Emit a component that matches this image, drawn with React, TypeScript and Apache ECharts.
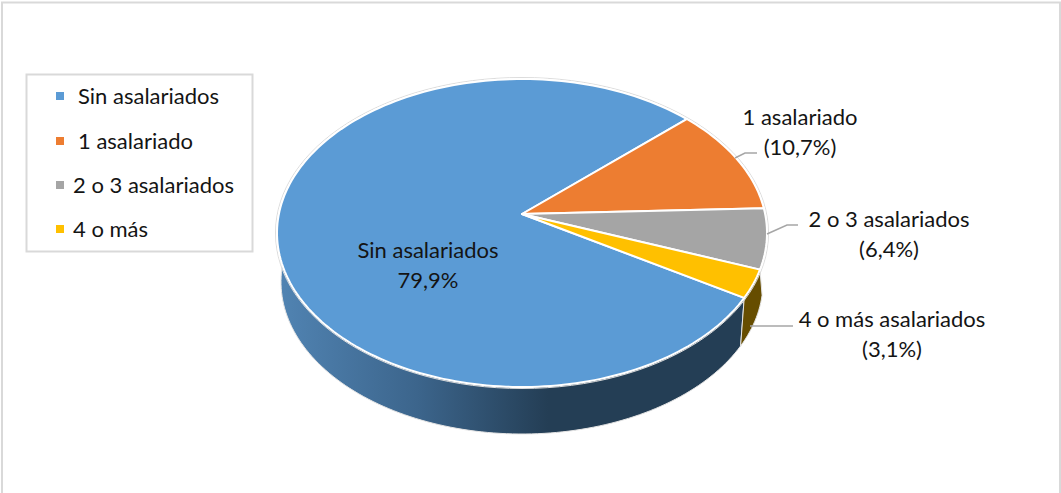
import React, { useEffect, useRef } from "react";
import * as echarts from "echarts";

const sliceNames = ["Sin asalariados", "1 asalariado", "2 o 3 asalariados", "4 o más asalariados"];
const legendNames = ["Sin asalariados", "1 asalariado", "2 o 3 asalariados", "4 o más"];
const sliceValues = [79.9, 10.7, 6.4, 3.1];
const sliceColors = ["#5b9bd5", "#ed7d31", "#a5a5a5", "#ffc000"];

const FONT = "Lato";
const FONT_SIZE = 22;
const TEXT = "#141414";
const START = 335.1;
const APEX = [522, 214];
const TOP = { cx: 522, cy: 233, rx: 245, ry: 154 };
const BOTTOM = { cx: 522, cy: 282, rx: 241, ry: 152 };
const RIM_LEFT = 175;
const RIM_RIGHT = 355;
const total = sliceValues.reduce((a, b) => a + b, 0);

// Angles run clockwise on the page, so they decrease from START.
const ranges = (() => {
  let cur = START;
  return sliceValues.map((v) => {
    const span = (v / total) * 360;
    const r = [cur, cur - span];
    cur -= span;
    return r;
  });
})();

const pt = (e: any, deg: number) => {
  const a = (deg * Math.PI) / 180;
  return [e.cx + e.rx * Math.cos(a), e.cy - e.ry * Math.sin(a)];
};
const arc = (e: any, a0: number, a1: number) => {
  const n = Math.max(2, Math.ceil(Math.abs(a1 - a0) / 1.5));
  const out: number[][] = [];
  for (let i = 0; i <= n; i++) out.push(pt(e, a0 + ((a1 - a0) * i) / n));
  return out;
};

const blueSide = () =>
  new echarts.graphic.LinearGradient(0, 0, 1, 0, [
    { offset: 0, color: "#5184b3" },
    { offset: 0.3, color: "#3c658c" },
    { offset: 0.58, color: "#243e55" },
    { offset: 1, color: "#243e55" },
  ]);

const renderSide = (params: any) => {
  const i = params.dataIndex;
  if (i === 0) {
    const a0 = ranges[0][0];
    const pts = [...arc(TOP, 180, a0), ...arc(BOTTOM, a0, RIM_LEFT)];
    return { type: "polygon", shape: { points: pts }, style: { fill: blueSide(), stroke: "#e4e4e4", lineWidth: 1 } };
  }
  if (i === 3) {
    const topNear = ranges[3][1] + 360;
    const topFar = ranges[3][0] + 360;
    const pts = [...arc(TOP, topNear, topFar), ...arc(BOTTOM, RIM_RIGHT, topNear)];
    return { type: "polygon", shape: { points: pts }, style: { fill: "#664d00", stroke: "#e4e4e4", lineWidth: 1 } };
  }
  return { type: "group", children: [] };
};

const renderTop = (params: any, api: any) => {
  const i = params.dataIndex;
  const [a0, a1] = ranges[i];
  const pts = [APEX, ...arc(TOP, a0, a1)];
  return {
    type: "polygon",
    shape: { points: pts },
    style: { fill: api.visual("color"), stroke: "#ffffff", lineWidth: 2, lineJoin: "round" },
  };
};

const pct = (v: number) => v.toFixed(1).replace(".", ",") + "%";

const labelPos = [
  [800, 131],
  [889, 233],
  [892, 333],
  [428, 264],
];
const leaders = [
  [[735, 158], [745, 153], [757, 153]],
  [[767, 234], [787, 225], [798, 225]],
  [[750, 326], [793, 326]],
];

const labelText = (s: string, x: number, y: number) => ({
  type: "text",
  x,
  y,
  style: {
    text: s,
    fill: TEXT,
    font: `${FONT_SIZE}px ${FONT}`,
    align: "center",
    verticalAlign: "middle",
    lineHeight: 30,
  },
});

const legendY = [95, 140, 184, 228];
const legendMarkY = [96, 141, 185, 229];
const legendX = [78, 78, 73, 73];

export default function App() {
  const ref = useRef<HTMLDivElement>(null);
  useEffect(() => {
    document.body.style.margin = "0";
    const chart = echarts.init(ref.current!, null, { renderer: "svg" });
    const data = sliceNames.map((name, i) => ({
      name,
      value: sliceValues[i],
      itemStyle: { color: sliceColors[i] },
    }));
    chart.setOption({
      animation: false,
      backgroundColor: "#ffffff",
      series: [
        { type: "custom", coordinateSystem: "none", z: 1, silent: true, data, renderItem: renderSide },
        {
          type: "custom",
          coordinateSystem: "none",
          z: 2,
          silent: true,
          data: [{ name: "rim", value: 100 }],
          renderItem: () => ({
            type: "ellipse",
            shape: { cx: TOP.cx, cy: TOP.cy, rx: TOP.rx + 1.5, ry: TOP.ry + 1.5 },
            style: { fill: "none", stroke: "#dcdcdc", lineWidth: 1 },
          }),
        },
        { type: "custom", coordinateSystem: "none", z: 3, silent: true, data, renderItem: renderTop },
      ],
      graphic: [
        { type: "rect", z: 0, shape: { x: 2, y: 2.5, width: 1058, height: 520 }, style: { fill: "none", stroke: "#d9d9d9", lineWidth: 2 } },
        { type: "rect", z: 10, shape: { x: 26.5, y: 74.5, width: 226, height: 177 }, style: { fill: "#fff", stroke: "#d9d9d9", lineWidth: 2 } },
        ...legendNames.flatMap((n, i) => [
          { type: "rect", z: 11, shape: { x: 56, y: legendMarkY[i] - 4, width: 8, height: 8 }, style: { fill: sliceColors[i] } },
          {
            type: "text",
            z: 11,
            x: legendX[i],
            y: legendY[i],
            style: { text: n, fill: TEXT, font: `${FONT_SIZE}px ${FONT}`, align: "left", verticalAlign: "middle" },
          },
        ]),
        ...leaders.map((p) => ({
          type: "polyline",
          z: 11,
          shape: { points: p },
          style: { fill: "none", stroke: "#a6a6a6", lineWidth: 1.5 },
        })),
        { ...labelText(`${sliceNames[1]}\n(${pct(sliceValues[1])})`, labelPos[0][0], labelPos[0][1]), z: 11 },
        { ...labelText(`${sliceNames[2]}\n(${pct(sliceValues[2])})`, labelPos[1][0], labelPos[1][1]), z: 11 },
        { ...labelText(`${sliceNames[3]}\n(${pct(sliceValues[3])})`, labelPos[2][0], labelPos[2][1]), z: 11 },
        { ...labelText(`${sliceNames[0]}\n${pct(sliceValues[0])}`, labelPos[3][0], labelPos[3][1]), z: 11 },
      ],
    });
    return () => chart.dispose();
  }, []);
  return <div ref={ref} style={{ width: 1061, height: 493, overflow: "hidden" }} />;
}
